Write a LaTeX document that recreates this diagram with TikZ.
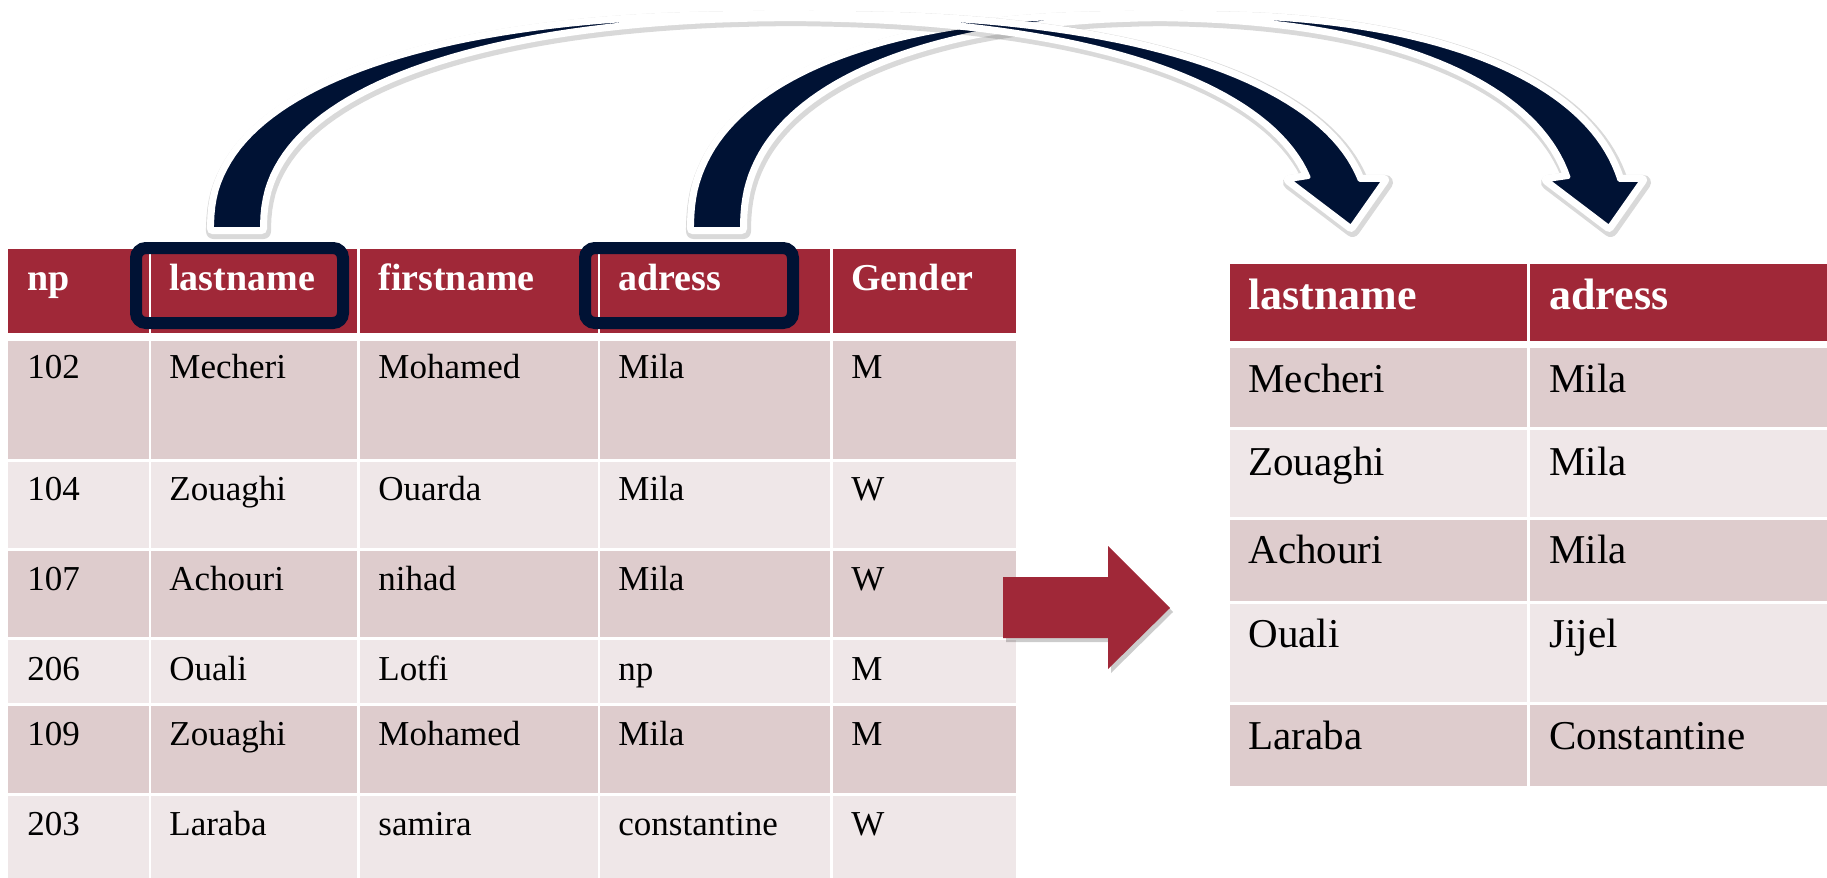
\documentclass[tikz,border=0pt]{standalone}
\usepackage{fontspec}
\setmainfont{Liberation Serif}
\usetikzlibrary{calc}
\definecolor{hdrred}{RGB}{160,40,56}
\definecolor{rowdark}{RGB}{222,204,205}
\definecolor{rowlight}{RGB}{239,231,232}
\definecolor{navy}{RGB}{0,18,52}
\tikzset{
  hcell/.style={anchor=base west, inner sep=0pt, text=white,
    font=\bfseries\fontsize{19}{22}\selectfont},
  bcell/.style={anchor=base west, inner sep=0pt,
    font=\fontsize{17.5}{21}\selectfont},
  rhcell/.style={hcell, font=\bfseries\fontsize{22}{26}\selectfont},
  rbcell/.style={bcell, font=\fontsize{20.5}{24}\selectfont},
  gap/.style={draw=white, line width=1.4pt},
  pick/.style={draw=navy, line width=6pt, rounded corners=5pt},
  arcshadow/.style={draw=black, opacity=0.15, line width=7.5pt,
    line join=round, shift={(1.5,2.5)}},
  arcrim/.style={draw=white, line width=5pt, line join=round},
  arcbody/.style={fill=navy, draw=white, line width=2pt, line join=round}
}
% curved arrow: #1 = centre of the left edge, #2 = half width
\newcommand{\arcpath}[2]{%
  (#1-#2,229) -- plot[domain=179.5:11.4, samples=90, variable=\t]
    ({#1+#2*sign(cos(\t))*abs(cos(\t))^0.87}, {229-213*sin(\t)^0.87})
  -- (#1+#2-29,180) -- (#1+#2+33,227) -- (#1+#2+66,180)
  -- plot[domain=10.64:179.5, samples=90, variable=\t]
    ({#1+50+#2*sign(cos(\t))*abs(cos(\t))^0.87}, {229-213*sin(\t)^0.87})
  -- (#1+50-#2,229) -- cycle}

\begin{document}
\begin{tikzpicture}[x=0.5pt, y=-0.5pt]
  \useasboundingbox (0,0) rectangle (1827,878);

  % source table
  \fill[hdrred] (8,249) rectangle (1016,333);
  \foreach \top/\bot/\shade in {341/459/rowdark, 462/548/rowlight,
      551/637/rowdark, 640/703/rowlight, 706/793/rowdark, 796/878/rowlight}
    \fill[\shade] (8,\top) rectangle (1016,\bot);
  \foreach \x in {150,358.5,599,831.5}
    \draw[gap] (\x,249) -- (\x,878);

  \foreach \txt/\x [count=\i] in {np/27, lastname/169, firstname/378,
      adress/618, Gender/851}
    \node[hcell] (h\i) at (\x,290) {\txt};

  \foreach \a/\b/\c/\d/\e/\y [count=\r] in {
      102/Mecheri/Mohamed/Mila/M/378, 104/Zouaghi/Ouarda/Mila/W/500,
      107/Achouri/nihad/Mila/W/590, 206/Ouali/Lotfi/np/M/680,
      109/Zouaghi/Mohamed/Mila/M/745, 203/Laraba/samira/constantine/W/835} {
    \node[bcell] (r\r-1) at (27,\y) {\a};
    \node[bcell] (r\r-2) at (169,\y) {\b};
    \node[bcell] (r\r-3) at (378,\y) {\c};
    \node[bcell] (r\r-4) at (618,\y) {\d};
    \node[bcell] (r\r-5) at (851,\y) {\e};
  }

  % result table
  \fill[hdrred] (1230,264) rectangle (1827,341);
  \foreach \top/\bot/\shade in {348/427/rowdark, 430/517/rowlight,
      520/601/rowdark, 604/702/rowlight, 705/786/rowdark}
    \fill[\shade] (1230,\top) rectangle (1827,\bot);
  \draw[gap] (1528.5,264) -- (1528.5,786);

  \node[rhcell] (p1) at (1248,309) {lastname};
  \node[rhcell] (p2) at (1549,309) {adress};
  \foreach \b/\d/\y [count=\r] in {Mecheri/Mila/392, Zouaghi/Mila/475,
      Achouri/Mila/563, Ouali/Jijel/647, Laraba/Constantine/749} {
    \node[rbcell] (s\r-1) at (1248,\y) {\b};
    \node[rbcell] (s\r-2) at (1549,\y) {\d};
  }

  % selected columns
  \draw[pick] (136,248) rectangle (343,323);
  \draw[pick] (585,248) rectangle (793,323);

  % curved arrows
  \draw[arcshadow] \arcpath{1134}{442};
  \draw[arcrim] \arcpath{1134}{442};
  \filldraw[arcbody] \arcpath{1134}{442};

  \draw[arcshadow] \arcpath{765}{553};
  \draw[arcrim] \arcpath{765}{553};
  \filldraw[arcbody] \arcpath{765}{553};

  % block arrow
  \fill[black, opacity=0.2, shift={(3,4)}] (1003,577) -- (1108,577)
    -- (1108,546) -- (1170,608) -- (1108,669) -- (1108,638)
    -- (1003,638) -- cycle;
  \fill[hdrred] (1003,577) -- (1108,577) -- (1108,546) -- (1170,608)
    -- (1108,669) -- (1108,638) -- (1003,638) -- cycle;
\end{tikzpicture}
\end{document}
